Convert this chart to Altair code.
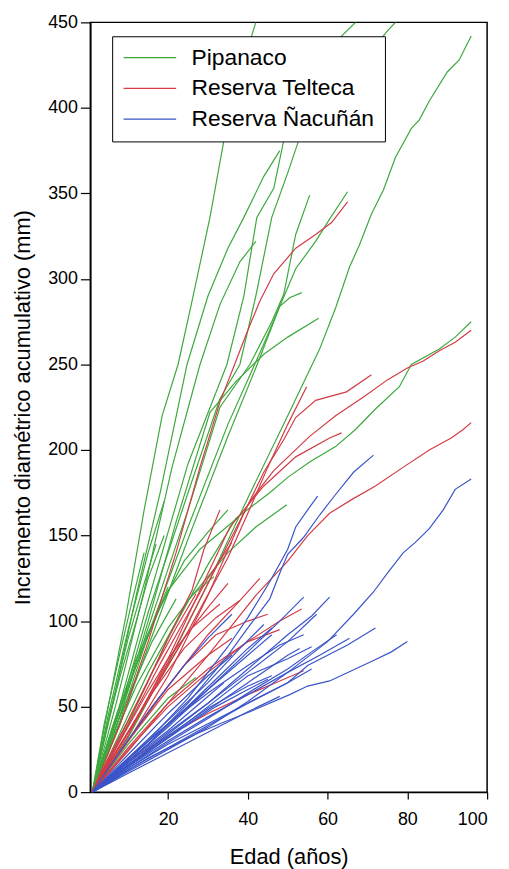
import altair as alt
import pandas as pd

SITES = ["Pipanaco", "Reserva Telteca", "Reserva Ñacuñán"]
COLORS = ["#3DA83D", "#D23C46", "#3B55C8"]
X_TICKS = [20, 40, 60, 80, 100]
Y_TICKS = [0, 50, 100, 150, 200, 250, 300, 350, 400, 450]

# (edad, incremento) pairs, one list per tree
PIPANACO = [
    [(1,0),(5,50),(9.5,104),(14,165),(18.5,220),(22.5,250),(26,287),(30.5,336),(34,381),(38,420),(42,450),(43,458)],
    [(1,0),(10,32),(20,75),(30,122),(40,172),(50,220),(58,259),(62,283),(65.5,307),(68,320),(71,338),(74,352),(77,371),(81,388),(83,393),(85.5,404),(90,421),(93,428),(96,442)],
    [(1,0),(10,40),(20,90),(30,133),(37,160),(45.5,175),(50,184),(55.5,193),(62,202),(67,212),(72,224),(78,237),(81,250),(88,259),(92,266),(96,275)],
    [(1,0),(8,40),(15,85),(25,148),(35,208),(42,248),(48,284),(52,306),(57,322),(60.5,335),(65,351)],
    [(1,0),(8,45),(15,96),(25,165),(33,225),(40.5,250),(46,275),(49,291),(52,326),(55.5,349)],
    [(1,0),(8,42),(15,92),(25,155),(35,215),(44,262),(48,284),(50.5,289),(53.5,292)],
    [(1,0),(8,45),(15,100),(22,158),(30.5,222),(37,240),(44,256),(50,266),(57.75,277)],
    [(1,0),(8,52),(15,112),(25,192),(34.75,250),(39,290),(42.25,336),(46.5,353),(49,381),(53,395),(58,420),(63.5,442),(67,450),(68,455)],
    [(1,0),(8,48),(15,105),(25,175),(33,230),(38,250),(42,290),(46,336),(50,362),(52.75,381),(60,405),(68,425),(75,445),(77,450),(78,455)],
    [(1,0),(6,50),(12,115),(18,175),(24.75,250),(30,290),(35,318),(39,336),(44,360),(48,375)],
    [(1,0),(7,52),(14,118),(21,190),(28,250),(33,285),(38,310),(42,322)],
    [(1,0),(8,35),(15,70),(25,112),(35,140),(42,155),(49.75,168)],
    [(1,0),(6,38),(12,78),(20,118),(28,142),(37.25,160)],
    [(1,0),(6,30),(12,62),(20,96),(26,115),(31.5,126)],
    [(1,0),(4,40),(8,82),(11,112),(14,140)],
    [(1,0),(5,42),(10,90),(14,122),(17,145)],
    [(1,0),(8,45),(16,88),(22,113)],
    [(1,0),(10,28),(20,55),(27,67)],
    [(1,0),(4,32),(8,68),(12,100),(15,125),(19,150)],
    [(1,0),(6,36),(12,74),(18,108),(24,135),(30,152),(35,165)],
    [(1,0),(5,30),(10,62),(15,92),(20,120)],
    [(1,0),(5,45),(10,95),(15,140),(19,170)],
]

TELTECA = [
    [(1,0),(10,35),(20,76),(30,122),(40.5,170),(46.5,188),(55.5,208),(62,220),(69,231),(75,241),(80,248),(84,252),(88,258),(92,263),(96,270)],
    [(1,0),(10,24),(20,52),(30,80),(42,115),(50,135),(55,150),(60.5,163),(66,171),(72,179),(79,190),(85.5,200),(91,207),(94,212),(96,216)],
    [(1,0),(8,40),(15,88),(22,140),(28,190),(33,228),(36.5,249),(40,270),(43,287),(46.5,303),(52,318),(57,326),(61,333),(65,345)],
    [(1,0),(10,30),(20,68),(30,115),(39,163),(44,187),(49,206),(52,219),(57,229),(64.75,234),(71,244)],
    [(1,0),(10,33),(20,78),(28,118),(35.5,155),(44,179),(52,196),(60.5,207),(63.5,210)],
    [(1,0),(5,16),(15,54),(25,94),(35,137),(40,163),(45,190),(50,215),(54.75,237)],
    [(1,0),(10,25),(20,50),(30,70),(40,88),(48,100),(53.5,107)],
    [(1,0),(10,18),(20,33),(30,46),(40,57),(48,65),(54,71)],
    [(1,0),(10,30),(20,62),(30,92),(38,112),(43,125)],
    [(1,0),(8,28),(16,58),(24,84),(32,102),(38,112)],
    [(1,0),(6,22),(12,48),(18,75),(24,100),(30,125),(36,146)],
    [(1,0),(5,20),(10,42),(16,70),(22,96),(27,116)],
    [(1,0),(8,30),(14,55),(20,78),(26,96),(33,110)],
    [(1,0),(10,30),(20,60),(30,80),(36,90)],
    [(1,0),(10,26),(20,52),(30,72),(40,88),(48,95)],
    [(1,0),(6,20),(12,42),(18,66),(24,90),(30,108),(35,122)],
    [(1,0),(7,28),(14,60),(20,90),(26,118),(29,142),(33,165)],
    [(1,0),(8,24),(16,50),(24,74),(32,92),(40,100),(45,104)],
]

NACUNAN = [
    [(1,0),(10,12),(20,25),(30,38),(40,53),(50,70),(60,88),(66.5,104),(71.5,117),(75,128),(79,140),(82,146),(85.5,154),(89,165),(92,177),(96,183)],
    [(1,0),(8,10),(15,20),(27,34),(33,40),(40.5,47),(50.5,57),(55,62),(60.5,65),(66,71),(71.5,77),(76,82),(80,88)],
    [(1,0),(10,14),(20,28),(30,40),(40,52),(50,64),(55,74),(60,80),(65,86),(72,96)],
    [(1,0),(10,16),(20,34),(30,52),(40,72),(50,92),(56,103),(60.5,114)],
    [(1,0),(15,28),(25,52),(35,80),(40,96),(45.5,113),(48,128),(50,139),(54,149),(58,162),(62,174),(66.5,187),(71.5,197)],
    [(1,0),(15,30),(25,55),(35,85),(40,102),(45.5,123),(50,142),(52,155),(55,165),(57.5,173)],
    [(1,0),(10,18),(20,38),(30,60),(40,82),(48,100),(54,114)],
    [(1,0),(10,15),(20,30),(30,44),(40,57),(50,70),(58,80),(65.5,90)],
    [(1,0),(10,17),(20,35),(30,52),(40,70),(50,88),(57.25,104)],
    [(1,0),(10,14),(20,29),(30,43),(40,58),(50,72),(56,82),(62.25,92)],
    [(1,0),(10,13),(20,26),(30,39),(40,52),(50,64),(56,72)],
    [(1,0),(8,14),(16,30),(24,48),(32,66),(40,84),(46,96)],
    [(1,0),(10,20),(20,42),(30,64),(38,84),(44,98)],
    [(1,0),(10,16),(20,32),(30,48),(40,64),(50,80),(53,84)],
    [(1,0),(10,19),(20,40),(30,60),(40,80),(46,92)],
    [(1,0),(8,12),(16,25),(24,38),(32,50),(40,60),(45,66)],
    [(1,0),(10,22),(20,46),(30,68),(36,80)],
    [(1,0),(10,15),(20,32),(30,50),(40,68),(50,78),(56,85)],
    [(1,0),(10,11),(20,23),(30,35),(40,47),(48,56)],
    [(1,0),(10,18),(20,36),(28,52),(34,64)],
    [(1,0),(8,24),(16,50),(24,74),(30,90),(36,104)],
    [(1,0),(10,20),(20,40),(30,58),(40,74),(48,86),(54,92)],
    [(1,0),(10,16),(20,33),(30,49),(40,62),(46,68)],
]

rows = []
for site, trees in zip(SITES, [PIPANACO, TELTECA, NACUNAN]):
    for i, tree in enumerate(trees):
        for k, (x, y) in enumerate(tree):
            rows.append({"site": site, "tree": f"{site}-{i}", "edad": x, "inc": y, "k": k})
df = pd.DataFrame(rows)

FONT = "Liberation Sans"

chart = alt.Chart(df).mark_line(strokeWidth=1.2, clip=True).encode(
    x=alt.X("edad:Q",
            scale=alt.Scale(domain=[0.5, 100], nice=False, zero=False),
            axis=alt.Axis(values=X_TICKS, title="Edad (años)", grid=False,
                          labelFont=FONT, labelFontSize=18, labelColor="black",
                          titleFont=FONT, titleFontSize=22, titleFontWeight="normal",
                          titleColor="black", tickColor="black", tickSize=7, tickWidth=1.2,
                          domainColor="black", domainWidth=1.5, labelPadding=12,
                          titlePadding=18)),
    y=alt.Y("inc:Q",
            scale=alt.Scale(domain=[0, 450], nice=False),
            axis=alt.Axis(values=Y_TICKS, title="Incremento diamétrico acumulativo (mm)",
                          grid=False, labelFont=FONT, labelFontSize=18, labelColor="black",
                          titleFont=FONT, titleFontSize=22, titleFontWeight="normal",
                          titleColor="black", tickColor="black", tickSize=10, tickWidth=1.2,
                          domainColor="black", domainWidth=1.5, labelPadding=3,
                          titlePadding=13)),
    color=alt.Color("site:N",
                    scale=alt.Scale(domain=SITES, range=COLORS),
                    legend=alt.Legend(title=None, orient="none", legendX=22, legendY=14,
                                      direction="vertical",
                                      symbolType="M-2,0H8.6", symbolSize=100,
                                      symbolStrokeWidth=1.2, labelOffset=47, labelLimit=400,
                                      labelFont=FONT, labelFontSize=23, labelColor="black",
                                      strokeColor="black", fillColor="white",
                                      padding=10, rowPadding=7)),
    detail="tree:N",
    order="k:Q",
).properties(
    width=400, height=776,
    padding={"left": 83, "top": 11, "right": 14, "bottom": 74},
    autosize=alt.AutoSizeParams(type="none"),
).configure_view(
    stroke="black", strokeWidth=1.5
)

chart.save("out.html", embed_options={"renderer": "svg", "actions": False})
